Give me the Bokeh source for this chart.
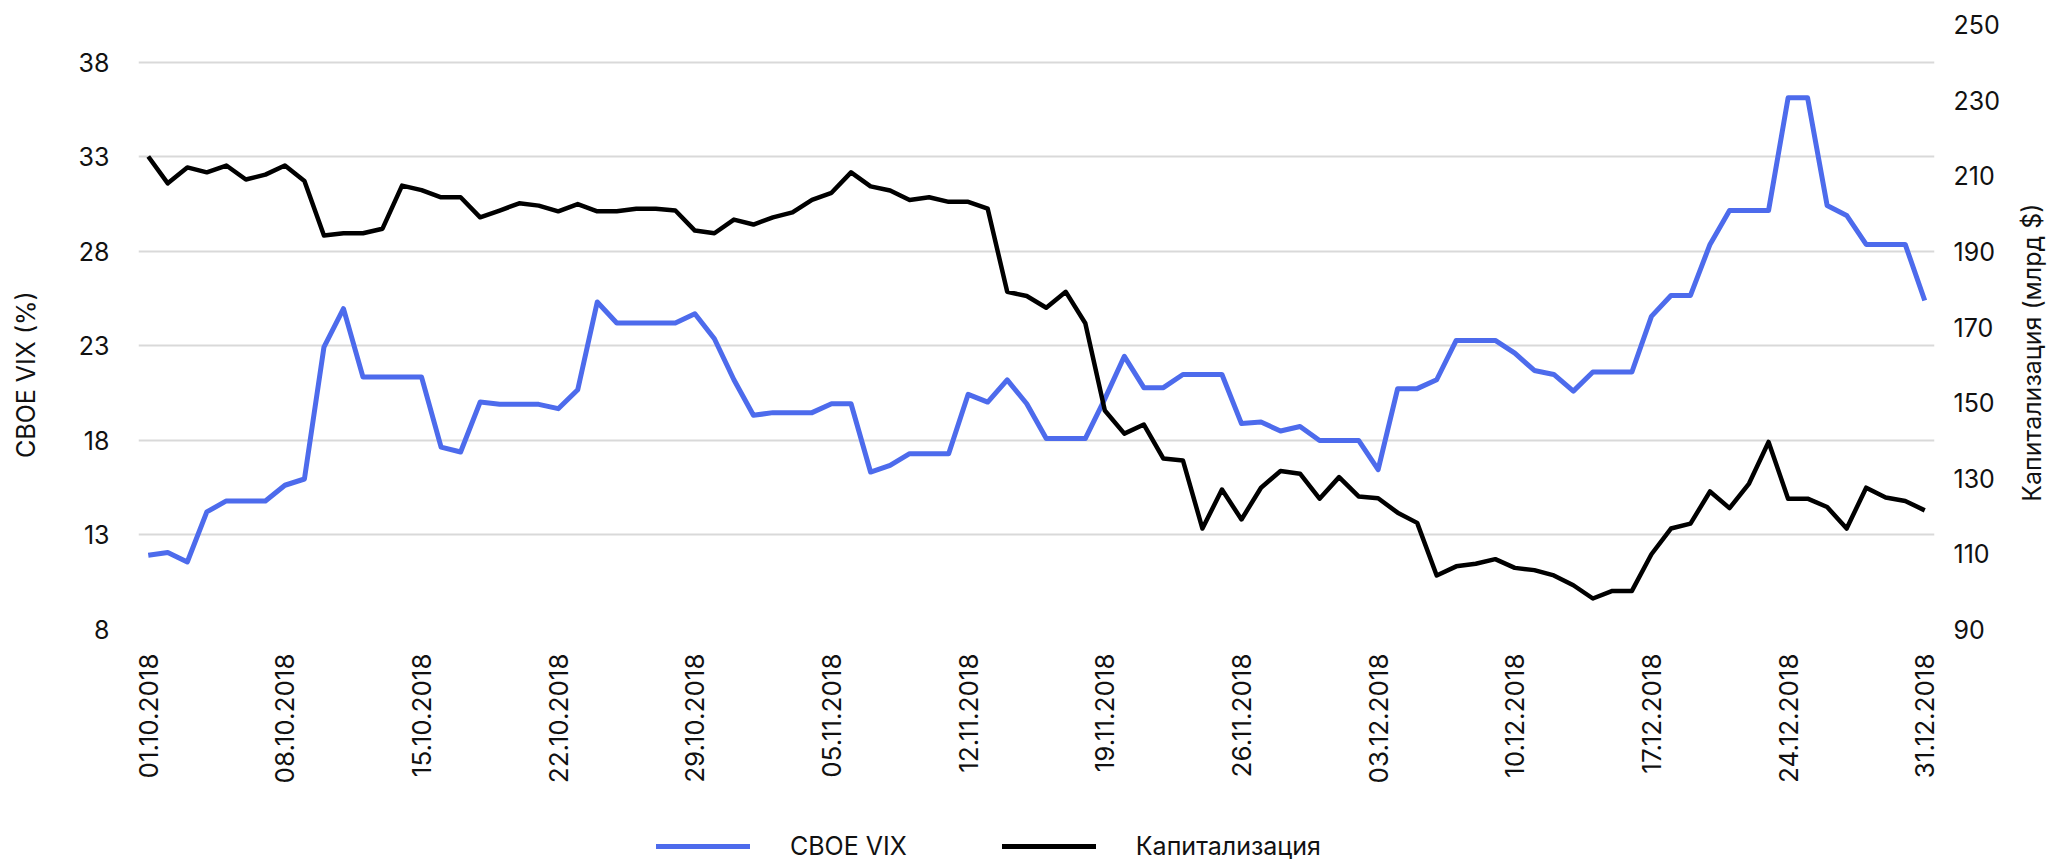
import math
import pandas as pd
from bokeh.plotting import figure
from bokeh.layouts import column, row
from bokeh.core.properties import value
from bokeh.models import (Range1d, LinearAxis, FixedTicker, DatetimeTickFormatter,
                          Legend, LegendItem, ColumnDataSource)
from bokeh.embed import file_html
from bokeh.resources import INLINE

# ---- data ----
dates = pd.date_range("2018-10-01", "2018-12-31", freq="D")
tick_dates = pd.date_range("2018-10-01", "2018-12-31", freq="7D")

vix = [11.93, 12.07, 11.57, 14.22, 14.8, 14.8, 14.8, 15.63, 15.96, 22.94,
       24.97, 21.35, 21.35, 21.35, 21.35, 17.65, 17.39, 20.03, 19.91, 19.91,
       19.91, 19.68, 20.68, 25.32, 24.21, 24.21, 24.21, 24.21, 24.7, 23.38,
       21.21, 19.33, 19.47, 19.47, 19.47, 19.94, 19.94, 16.33, 16.68, 17.3,
       17.3, 17.3, 20.44, 20.03, 21.2, 19.94, 18.1, 18.1, 18.1, 20.2,
       22.45, 20.79, 20.79, 21.49, 21.49, 21.49, 18.89, 18.97, 18.5, 18.74,
       18.0, 18.0, 18.0, 16.46, 20.74, 20.74, 21.21, 23.29, 23.29, 23.29,
       22.62, 21.7, 21.49, 20.61, 21.62, 21.62, 21.62, 24.56, 25.67, 25.67,
       28.37, 30.16, 30.16, 30.16, 36.12, 36.12, 30.43, 29.9, 28.37, 28.37,
       28.37, 25.4]

cap = [215.1, 208.0, 212.2, 210.9, 212.7, 209.0, 210.3, 212.7, 208.6, 194.2,
       194.8, 194.8, 196.0, 207.4, 206.2, 204.3, 204.3, 199.0, 200.8, 202.7,
       202.1, 200.6, 202.5, 200.6, 200.6, 201.3, 201.3, 200.8, 195.5, 194.8,
       198.4, 197.1, 199.0, 200.3, 203.6, 205.5, 210.9, 207.2, 206.1, 203.6,
       204.3, 203.1, 203.1, 201.3, 179.3, 178.2, 175.1, 179.3, 171.0, 147.9,
       141.8, 144.2, 135.2, 134.7, 116.7, 127.0, 119.1, 127.5, 131.9, 131.2,
       124.6, 130.3, 125.2, 124.7, 120.9, 118.2, 104.3, 106.7, 107.4, 108.6,
       106.3, 105.7, 104.3, 101.7, 98.2, 100.2, 100.2, 109.9, 116.7, 118.0,
       126.5, 122.1, 128.6, 139.6, 124.6, 124.6, 122.4, 116.7, 127.5, 124.9,
       124.0, 121.5]

vix_ticks = [8, 13, 18, 23, 28, 33, 38]
cap_ticks = [90, 110, 130, 150, 170, 190, 210, 230, 250]
series_names = ["CBOE VIX", "Капитализация"]
left_title = "CBOE VIX (%)"
right_title = "Капитализация (млрд $)"

FONT = "Inter"
TXT = "#111111"
BLUE = "#4D6BEC"
BLACK = "#000000"

src = ColumnDataSource(dict(date=dates, vix=vix, cap=cap))

MAIN_H = 800
LEFT_W = 50
RIGHT_W = 30
MAIN_W = 2047 - LEFT_W - RIGHT_W


def blank_fig(w, h):
    f = figure(width=w, height=h, output_backend="svg", toolbar_location=None,
               x_range=Range1d(0, w), y_range=Range1d(0, h),
               min_border_left=0, min_border_right=0, min_border_top=0, min_border_bottom=0)
    f.axis.visible = False
    f.grid.visible = False
    f.outline_line_color = None
    f.background_fill_color = "white"
    f.border_fill_color = "white"
    return f


half = pd.Timedelta(hours=12)
p = figure(width=MAIN_W, height=MAIN_H, output_backend="svg", toolbar_location=None,
           x_axis_type="datetime",
           x_range=Range1d(dates[0] - half, dates[-1] + half),
           y_range=Range1d(8, 40),
           min_border_left=88, min_border_right=83,
           min_border_top=24, min_border_bottom=171)
p.extra_y_ranges = {"cap": Range1d(90, 250)}
p.outline_line_color = None
p.background_fill_color = "white"
p.border_fill_color = "white"

# grid
p.xgrid.visible = False
p.ygrid.ticker = FixedTicker(ticks=vix_ticks)
p.ygrid.grid_line_color = "#D9D9D9"
p.ygrid.grid_line_width = 2


def style_axis(ax, size="25px"):
    ax.axis_line_color = None
    ax.major_tick_line_color = None
    ax.minor_tick_line_color = None
    ax.major_tick_in = 0
    ax.major_tick_out = 0
    ax.major_label_text_font = FONT
    ax.major_label_text_font_size = size
    ax.major_label_text_color = TXT


# left axis
ly = p.yaxis[0]
ly.ticker = FixedTicker(ticks=vix_ticks)
style_axis(ly)
ly.major_label_standoff = 29

# right axis
ry = LinearAxis(y_range_name="cap", ticker=FixedTicker(ticks=cap_ticks))
style_axis(ry)
ry.major_label_standoff = 19
p.add_layout(ry, "right")

# x axis
xa = p.xaxis[0]
xa.ticker = FixedTicker(ticks=[t.value / 1e6 for t in tick_dates])
fmt = "%d.%m.%Y"
xa.formatter = DatetimeTickFormatter(days=fmt, months=fmt, years=fmt, hours=fmt,
                                     hourmin=fmt, minutes=fmt, minsec=fmt,
                                     seconds=fmt, milliseconds=fmt, microseconds=fmt)
style_axis(xa, "26px")
xa.major_label_orientation = math.pi / 2
xa.major_label_standoff = 24

# lines
r1 = p.line("date", "vix", source=src, line_color=BLUE, line_width=5, line_join="round")
r2 = p.line("date", "cap", source=src, y_range_name="cap", line_color=BLACK,
            line_width=4.5, line_join="round")

# ---- axis titles in narrow side strips (text glyphs, rotated) ----
lt = blank_fig(LEFT_W, MAIN_H)
lt.text(x=[25], y=[337], text=[left_title], angle=math.pi / 2,
        text_align="center", text_baseline="middle",
        text_font=value(FONT), text_font_size=value("25px"), text_color=TXT)
rt = blank_fig(RIGHT_W, MAIN_H)
rt.text(x=[14], y=[366], text=[right_title], angle=math.pi / 2,
        text_align="center", text_baseline="middle",
        text_font=value(FONT), text_font_size=value("25px"), text_color=TXT)

# ---- legend strip below the chart ----
lf = blank_fig(2047, 62)
g1 = lf.line(x=[-20, -10], y=[-20, -20], line_color=BLUE, line_width=5, line_cap="round")
g2 = lf.line(x=[-20, -10], y=[-20, -20], line_color=BLACK, line_width=5, line_cap="round")
legend = Legend(items=[LegendItem(label=series_names[0], renderers=[g1]),
                       LegendItem(label=series_names[1], renderers=[g2])],
                orientation="horizontal", location=(656, 1),
                glyph_width=94, glyph_height=30, label_standoff=40, spacing=95,
                padding=0, margin=0, border_line_alpha=0, background_fill_alpha=0,
                label_text_font=FONT, label_text_font_size="25px",
                label_text_color=TXT)
lf.add_layout(legend)

layout = column(row(lt, p, rt, spacing=0), lf, spacing=0)
open("out.html", "w").write(file_html(layout, INLINE))
